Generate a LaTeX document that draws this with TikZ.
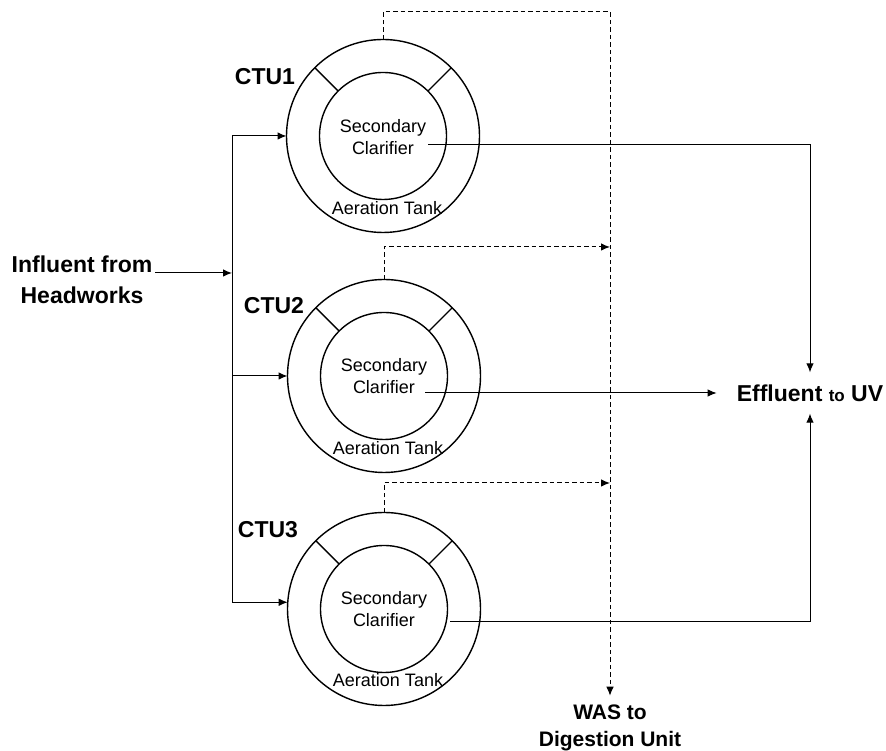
\documentclass[tikz,border=0pt]{standalone}
\usepackage{fontspec}
\setmainfont{Liberation Sans}
\usetikzlibrary{arrows.meta}

\tikzset{
		tank/.style={
			circle, draw, line width=1.4pt, minimum size=193pt, inner sep=0pt, outer sep=0pt},
		clarifier/.style={
			circle, draw, line width=1.4pt, minimum size=127pt, inner sep=0pt, outer sep=0pt},
		intext/.style={align=center, inner sep=0pt, font=\fontsize{18}{22}\selectfont},
		bigtext/.style={align=center, inner sep=0pt, font=\fontsize{23}{31}\selectfont\bfseries},
		edge/.style={draw, line width=1pt, -{Latex[length=9pt,width=7.5pt]}},
		spoke/.style={draw, line width=1.4pt, -},
		wasline/.style={draw, line width=1pt, dash pattern=on 4.5pt off 3pt, -{Latex[length=9pt,width=7.5pt]}},
	}
\def\busx{232}
\def\wasx{610}

\begin{document}
\begin{tikzpicture}[x=1pt, y=1pt]
			\useasboundingbox (0,0) rectangle (886,751);
			% tanks
			\node[tank] (out1) at (383,615) {};
			\node[clarifier] (sc1) at (383,615) {};
			\node[tank] (out2) at (384,375) {};
			\node[clarifier] (sc2) at (384,375) {};
			\node[tank] (out3) at (384,142) {};
			\node[clarifier] (sc3) at (384,142) {};
			\draw[spoke] (out1.135) -- (sc1.135); \draw[spoke] (out1.45) -- (sc1.45);
			\draw[spoke] (out2.135) -- (sc2.135); \draw[spoke] (out2.45) -- (sc2.45);
			\draw[spoke] (out3.135) -- (sc3.135); \draw[spoke] (out3.45) -- (sc3.45);
			\node[intext] (txt1) at (383,614) {Secondary\\Clarifier};
			\node[intext] (txt2) at (384,375) {Secondary\\Clarifier};
			\node[intext] (txt3) at (384,142) {Secondary\\Clarifier};
			\node[intext] (at1) at (387,543) {Aeration Tank};
			\node[intext] (at2) at (388,303) {Aeration Tank};
			\node[intext] (at3) at (388,71) {Aeration Tank};
			\node[bigtext] (ctu1) at (265,674) {CTU1};
			\node[bigtext] (ctu2) at (274,445) {CTU2};
			\node[bigtext] (ctu3) at (268,221) {CTU3};
			% inlet side
			\node[bigtext] (inf) at (82,471) {Influent from\\Headworks};
			\coordinate (i0) at (155,478);
			\coordinate (bus) at (\busx,478);
			\draw[edge] (i0) -- (bus);
			\draw[edge] (bus) |- (out1.west);
			\draw[edge] (bus) |- (out2.west);
			\draw[edge] (bus) |- (out3.176);
			% effluent
			\node[bigtext, inner xsep=20pt, inner ysep=12pt] (eff) at (810,358)
				{Effluent {\fontsize{17}{20}\selectfont to} UV};
			\coordinate (e1) at (428,606);
			\coordinate (e2) at (425,358);
			\coordinate (e3) at (450,129);
			\draw[edge] (e1) -| (eff.north);
			\draw[edge] (e2) -- (eff.west);
			\draw[edge] (e3) -| (eff.south);
			% waste sludge
			\node[bigtext, font=\fontsize{21}{27}\selectfont\bfseries, inner ysep=9pt] (was) at (\wasx,23)
				{WAS to\\Digestion Unit};
			\coordinate (wtop) at (\wasx,739);
			\coordinate (w2) at (\wasx,504);
			\coordinate (w3) at (\wasx,268);
			\draw[wasline] (out1.north) |- (wtop) -- (was.north);
			\draw[wasline] (out2.north) |- (w2);
			\draw[wasline] (out3.north) |- (w3);
			\end{tikzpicture}
\end{document}
